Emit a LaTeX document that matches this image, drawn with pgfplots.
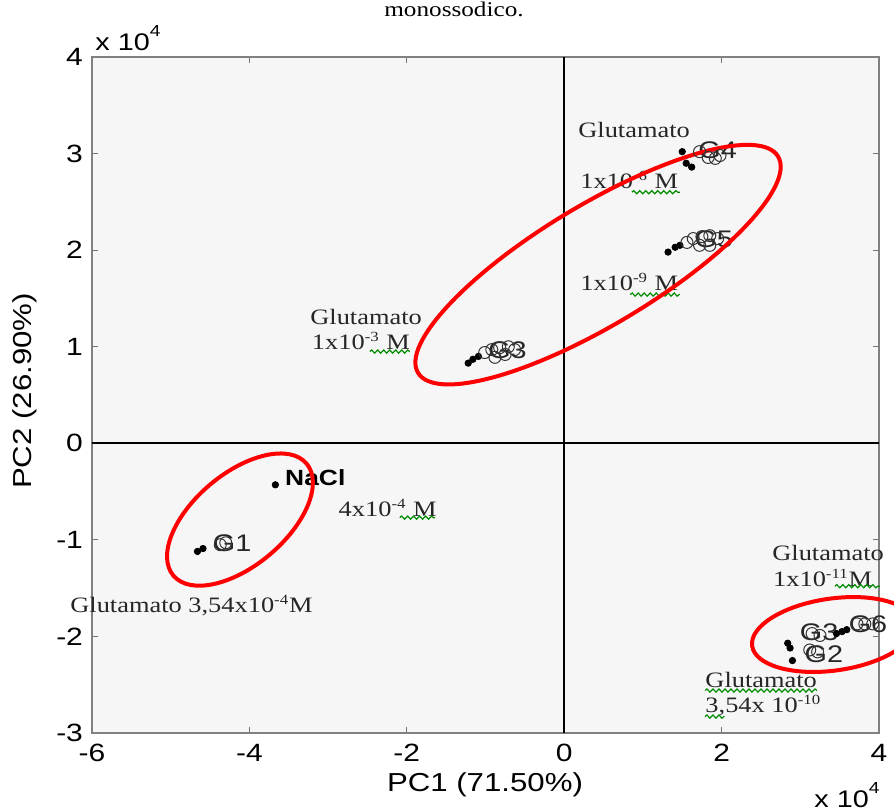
\documentclass[border=0pt]{standalone}
\usepackage{fontspec}
\setmainfont{Liberation Serif}
\newfontfamily\sansf{Liberation Sans}[FakeStretch=1.2]
\newfontfamily\seriff{Liberation Serif}[FakeStretch=1.2]
\usepackage{pgfplots}
\usepackage{pgfplotstable}
\pgfplotsset{compat=1.18}
\usetikzlibrary{decorations.pathmorphing}

% filled dots (x, y in units of 10^4)
\pgfplotstableread{
x y
1.50 3.02
1.55 2.90
1.62 2.86
1.32 1.98
1.41 2.03
1.47 2.05
-1.22 0.83
-1.16 0.87
-1.09 0.90
-3.67 -0.43
-4.66 -1.12
-4.59 -1.09
2.84 -2.07
2.87 -2.12
2.90 -2.25
3.46 -1.97
3.53 -1.95
3.59 -1.93
}\dotsdata

% open circles
\pgfplotstableread{
x y
1.72 3.02
1.83 2.96
1.92 2.95
1.98 2.98
1.56 2.08
1.64 2.12
1.75 2.14
1.85 2.15
1.95 2.12
1.85 2.05
1.72 2.05
-1.01 0.94
-0.92 0.97
-0.82 0.99
-0.71 1.00
-0.63 0.97
-0.75 0.92
-0.88 0.89
-4.37 -1.05
-4.30 -1.03
3.15 -1.97
3.25 -1.99
3.12 -2.14
3.22 -2.16
3.72 -1.87
3.82 -1.87
3.92 -1.87
}\circdata

\newcommand{\sps}[1]{\textsuperscript{\fontsize{7}{8}\seriff #1}}

\tikzset{
  ann/.style={font=\fontsize{11}{12}\seriff, text=black!85, inner sep=0pt, anchor=west},
  glab/.style={font=\fontsize{12}{13}\sansf, text=black!85, inner sep=0pt},
  wavy/.style={draw=green!55!black, line width=0.6pt, decorate,
     decoration={snake, amplitude=0.8pt, segment length=3pt}},
  ell/.style={draw=red, line width=2pt},
}

\begin{document}
\begin{tikzpicture}
\begin{axis}[
  scale only axis,
  width=393.5pt, height=338pt,
  xmin=-6, xmax=4, ymin=-3, ymax=4,
  clip=false,
  axis background/.style={fill=gray!7},
  axis line style={draw=black!50, line width=1pt},
  tick align=inside,
  tick pos=both,
  xticklabel pos=left, yticklabel pos=left,
  major tick length=3pt,
  tick style={draw=black!55, line width=0.6pt},
  xtick={-6,-4,-2,0,2,4},
  xticklabels={-6,-4,-2,0,2,4},
  ytick={-3,-2,-1,0,1,2,3,4},
  yticklabels={-3,-2,-1,0,1,2,3,4},
  ticklabel style={font=\fontsize{12.5}{14}\sansf, text=black},
  xticklabel style={yshift=-2pt},
  yticklabel style={xshift=-1pt},
]
% zero lines
\draw[black, line width=0.8pt] (axis cs:0,-3) -- (axis cs:0,4);
\draw[black, line width=0.8pt] (axis cs:-6,0) -- (axis cs:4,0);

% data
\addplot[only marks, mark=*, mark size=1.6pt, black] table[x=x,y=y] {\dotsdata};
\addplot[only marks, mark=o, mark size=3pt, black!80, mark options={line width=0.5pt}] table[x=x,y=y] {\circdata};

% point labels
\node[glab] at (axis cs:1.95,3.03) {G4};
\node[glab] at (axis cs:1.90,2.11) {G5};
\node[glab] at (axis cs:-0.72,0.96) {G3};
\node[glab] at (axis cs:-4.22,-1.03) {G1};
\node[font=\fontsize{11}{12}\sansf\bfseries, inner sep=0pt, anchor=west] at (axis cs:-3.55,-0.36) {NaCl};
\node[glab] at (axis cs:3.24,-1.96) {G3};
\node[glab] at (axis cs:3.30,-2.18) {G2};
\node[glab] at (axis cs:3.86,-1.87) {G6};

% annotations
\node[ann] at (axis cs:0.175,3.24) {Glutamato};
\node[ann] at (axis cs:0.20,2.73) {1x10\sps{-6} M};
\node[ann] at (axis cs:0.20,1.67) {1x10\sps{-9} M};
\node[ann] at (axis cs:-3.23,1.31) {Glutamato};
\node[ann] at (axis cs:-3.21,1.06) {1x10\sps{-3} M};
\node[ann] at (axis cs:-2.87,-0.67) {4x10\sps{-4} M};
\node[ann] at (axis cs:-6.28,-1.68) {Glutamato 3,54x10\sps{-4}M};
\node[ann] at (axis cs:2.64,-1.14) {Glutamato};
\node[ann] at (axis cs:2.65,-1.39) {1x10\sps{-11}M};
\node[ann] at (axis cs:1.79,-2.45) {Glutamato};
\node[ann] at (axis cs:1.79,-2.72) {3,54x 10\sps{-10}};

% spell-check underlines
\draw[wavy] (axis cs:0.86,2.60) -- (axis cs:1.47,2.60);
\draw[wavy] (axis cs:0.84,1.54) -- (axis cs:1.47,1.54);
\draw[wavy] (axis cs:-2.47,0.95) -- (axis cs:-1.96,0.95);
\draw[wavy] (axis cs:-2.09,-0.77) -- (axis cs:-1.64,-0.77);
\draw[wavy] (axis cs:3.44,-1.48) -- (axis cs:4.01,-1.48);
\draw[wavy] (axis cs:1.79,-2.56) -- (axis cs:3.21,-2.56);
\draw[wavy] (axis cs:1.79,-2.83) -- (axis cs:2.04,-2.83);

% ellipses
\draw[ell, rotate around={31:(axis cs:0.43,1.85)}] (axis cs:0.43,1.85) ellipse [x radius=105pt, y radius=30pt];
\draw[ell, rotate around={40:(axis cs:-4.12,-0.79)}] (axis cs:-4.12,-0.79) ellipse [x radius=43.5pt, y radius=23pt];
\draw[ell, rotate around={8:(axis cs:3.42,-1.98)}] (axis cs:3.42,-1.98) ellipse [x radius=41pt, y radius=18pt];
\end{axis}

% multipliers and axis labels
\node[anchor=base west, inner sep=0pt, font=\fontsize{12}{14}\sansf] at (1.5pt,341.5pt) {x 10\raisebox{0.55em}{\fontsize{8}{9}\sansf 4}};
\node[anchor=base east, inner sep=0pt, font=\fontsize{12}{14}\sansf] at (394pt,-37pt) {x 10\raisebox{0.55em}{\fontsize{8}{9}\sansf 4}};
\node[font=\fontsize{13}{15}\sansf] at (196.5pt,-26pt) {PC1 (71.50\%)};
\node[font=\fontsize{13}{15}\sansf, rotate=90] at (-33.5pt,171pt) {PC2 (26.90\%)};
\node[anchor=base, inner sep=0pt, font=\fontsize{10.5}{12}\seriff] at (181pt,358.5pt) {monossodico.};

\pgfresetboundingbox
\path[use as bounding box] (-46pt,-39pt) rectangle (401pt,366.5pt);
\end{tikzpicture}
\end{document}
